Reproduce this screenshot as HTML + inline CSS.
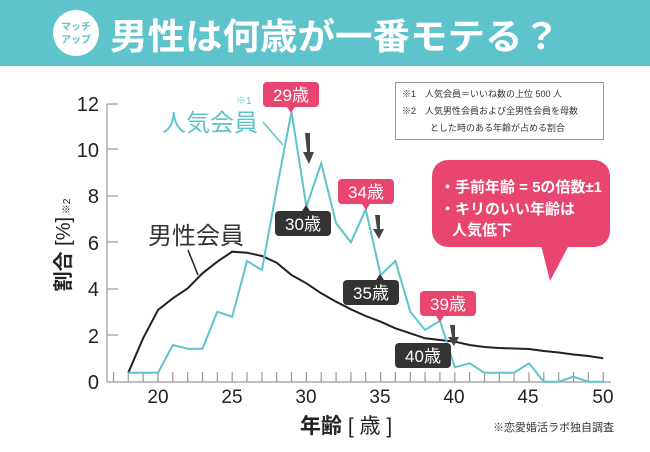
<!DOCTYPE html>
<html><head><meta charset="utf-8"><style>
body{margin:0;width:650px;height:447px;background:#fff;overflow:hidden;font-family:"Liberation Sans","Noto Sans CJK JP",sans-serif}
svg text{font-family:"Liberation Sans","Noto Sans CJK JP",sans-serif}
</style></head><body>
<svg id="s" width="650" height="447" viewBox="0 0 650 447" xmlns="http://www.w3.org/2000/svg">
<rect x="0" y="0" width="650" height="66" fill="#5fc3cb"/>
<circle cx="76" cy="33" r="23" fill="#fff"/>
<text x="76" y="30" font-size="10" font-weight="bold" fill="#5fc3cb" text-anchor="middle">マッチ</text>
<text x="76" y="43" font-size="10" font-weight="bold" fill="#5fc3cb" text-anchor="middle">アップ</text>
<text x="110" y="49" font-size="36" font-weight="bold" fill="#fff" textLength="450" lengthAdjust="spacingAndGlyphs">男性は何歳が一番モテる？</text>

<rect x="395.5" y="82.5" width="208" height="57" fill="#fff" stroke="#999"/>
<text x="402" y="97" font-size="9" fill="#333">※1　人気会員＝いいね数の上位 500 人</text>
<text x="402" y="114" font-size="9" fill="#333">※2　人気男性会員および全男性会員を母数</text>
<text x="430" y="131" font-size="9" fill="#333">とした時のある年齢が占める割合</text>

<g id="axes" stroke="#999" stroke-width="1.2" fill="none"></g>
<g font-size="20" fill="#222" text-anchor="end">
<text x="99" y="111">12</text><text x="99" y="157">10</text><text x="99" y="203">8</text>
<text x="99" y="250">6</text><text x="99" y="296">4</text><text x="99" y="343">2</text><text x="99" y="389">0</text>
</g>
<g font-size="19" fill="#222" text-anchor="middle">
<text x="158" y="403">20</text><text x="232" y="403">25</text><text x="306" y="403">30</text>
<text x="380" y="403">35</text><text x="454" y="403">40</text><text x="528" y="403">45</text><text x="603" y="403">50</text>
</g>
<text transform="translate(70,245) rotate(-90)" font-size="20" fill="#222" text-anchor="middle"><tspan font-weight="bold">割合</tspan> [%]<tspan font-size="10"> ※2</tspan></text>
<text x="300" y="433" font-size="21" fill="#222"><tspan font-weight="bold">年齢</tspan> [ 歳 ]</text>
<text x="493" y="431" font-size="11" fill="#333">※恋愛婚活ラボ独自調査</text>

<polyline id="blk" fill="none" stroke="#222" stroke-width="2"/>
<polyline id="cy" fill="none" stroke="#5fc3cb" stroke-width="2"/>

<text x="162" y="131" font-size="24" fill="#5fc3cb">人気会員</text>
<text x="236" y="104" font-size="10" fill="#5fc3cb">※1</text>
<line x1="263" y1="122" x2="283" y2="145" stroke="#5fc3cb" stroke-width="1.5"/>
<text x="148" y="244" font-size="24" fill="#333">男性会員</text>
<line x1="188" y1="250" x2="198" y2="275" stroke="#222" stroke-width="1.5"/>

<g font-size="17" fill="#fff" text-anchor="middle">
<rect x="263" y="82" width="56" height="25" rx="4" fill="#e8456f"/><polygon points="287,107 295,107 291,113" fill="#e8456f"/><text x="291" y="101">29歳</text>
<rect x="275" y="211" width="56" height="25" rx="4" fill="#333"/><polygon points="302,211 310,211 306,205" fill="#333"/><text x="303" y="230">30歳</text>
<rect x="338" y="179" width="56" height="25" rx="4" fill="#e8456f"/><polygon points="362,204 370,204 366,210" fill="#e8456f"/><text x="366" y="198">34歳</text>
<rect x="343" y="280" width="56" height="25" rx="4" fill="#333"/><polygon points="376,280 384,280 380,274" fill="#333"/><text x="371" y="299">35歳</text>
<rect x="420" y="291" width="56" height="25" rx="4" fill="#e8456f"/><polygon points="436,316 444,316 440,322" fill="#e8456f"/><text x="448" y="310">39歳</text>
<rect x="395" y="343" width="56" height="25" rx="4" fill="#333"/><text x="423" y="362">40歳</text>
</g>
<g fill="#444">
<polygon points="305,133 310,133 310,152 314,152 309,164 303,152 307,152"/>
<polygon points="375,215 380,215 380,229 384,229 379,239 373,229 377,229"/>
<polygon points="450,325 455,325 455,337 459,337 454,346 448,337 452,337"/>
</g>

<rect x="432" y="160" width="178" height="87" rx="16" fill="#e8456f"/>
<polygon points="541,245 569,245 550,281" fill="#e8456f"/>
<g font-size="15" font-weight="bold" fill="#fff">
<text x="440" y="192" textLength="162" lengthAdjust="spacingAndGlyphs">・手前年齢 = 5の倍数±1</text>
<text x="440" y="214">・キリのいい年齢は</text>
<text x="452" y="235">人気低下</text>
</g>
</svg>
<script>
var X=function(a){return 128.3+(a-18)*14.84;};
var cy=[372.7,372.7,372.7,345,348.7,348.7,311.7,316.7,261,270,189,111.7,206.7,163.3,223.3,242.3,209.3,275,261,311.7,330,320.7,367.3,363.3,372.7,372.7,372.7,363.3,381.7,381.7,376.7,381.7,381.7];
var bk=[372.7,338.3,310,298.3,288.3,273.3,261.7,251.7,252.7,256,262.7,275,283.3,293.3,301.7,309.3,316,321.7,328.3,333.3,338.3,340,341.7,345,347,348,348.5,349,351,352.5,354.5,356,358.3];
function pts(a){return a.map(function(y,i){return X(18+i).toFixed(1)+","+y;}).join(" ");}
document.getElementById("cy").setAttribute("points",pts(cy));
document.getElementById("blk").setAttribute("points",pts(bk));
var g=document.getElementById("axes"),h='<line x1="107" y1="104" x2="107" y2="382"/><line x1="107" y1="382" x2="611" y2="382"/>';
[104,149,196,242,289,335].forEach(function(y){h+='<line x1="107" y1="'+y+'" x2="118" y2="'+y+'"/>';});
for(var a=17;a<=50;a++){var x=X(a).toFixed(1);h+='<line x1="'+x+'" y1="382" x2="'+x+'" y2="372"/>';}
g.innerHTML=h;
</script>
</body></html>
